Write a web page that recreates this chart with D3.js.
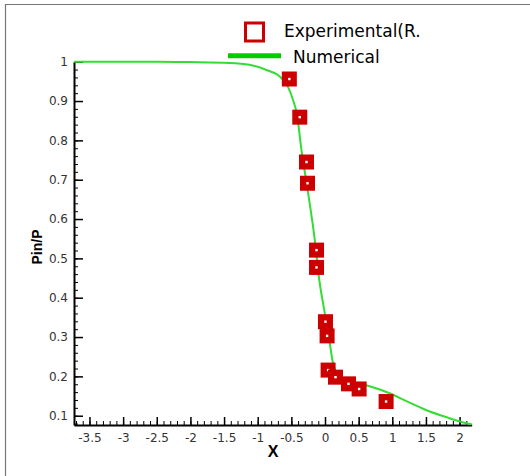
<!DOCTYPE html>
<html lang="en">
<head>
<meta charset="utf-8">
<title>Pin/P vs X</title>
<style>
   html,body { margin:0; padding:0; background:white; }
   svg { display:block; font-family:"DejaVu Sans",sans-serif; }
   .axis text { font-size:12px; fill:#333; font-family:"DejaVu Sans",sans-serif; }
   .axis path, .axis line { stroke:black; }
   .title { font-family:"Liberation Sans",Arial,sans-serif; font-weight:bold; }
</style>
<script src="https://d3js.org/d3.v7.min.js"></script>
</head>
<body>
<script>
// experimental points
let expX = [-0.53,-0.375,-0.275,-0.26,-0.126,-0.126,0.007,0.031,0.046,0.156,0.349,0.507,0.908];
let expY = [0.956,0.859,0.745,0.691,0.521,0.477,0.339,0.303,0.216,0.198,0.181,0.168,0.136];
// numerical curve
let numX = [-3.73,-2.5,-2.0,-1.42,-1.12,-0.87,-0.67,-0.55,-0.47,-0.42,-0.35,-0.25,-0.152,-0.09,-0.003,0.071,0.12,0.22,0.40,0.64,0.96,1.21,1.51,1.81,2.10,2.18];
let numY = [1.0,1.0,0.999,0.997,0.992,0.979,0.962,0.936,0.900,0.869,0.776,0.665,0.547,0.452,0.360,0.284,0.233,0.199,0.187,0.176,0.157,0.137,0.114,0.096,0.081,0.078];
let xTicks = [-3.5,-3,-2.5,-2,-1.5,-1,-0.5,0,0.5,1,1.5,2];
let yTicks = [0.1,0.2,0.3,0.4,0.5,0.6,0.7,0.8,0.9,1];

let width = 530, height = 476;
let margin = {top:61.7, right:58.3, bottom:51, left:74};

let x = d3.scaleLinear().domain([-3.73,2.18]).range([margin.left, width-margin.right]);
let y = d3.scaleLinear().domain([0.0764,1]).range([height-margin.bottom, margin.top]);
let fmt = d => String(d); // plain hyphen minus like the original

const svg = d3.select("body").append("svg")
   .attr("width",width).attr("height",height);

// frame
svg.append("line").attr("x1",5).attr("x2",width).attr("y1",4.5).attr("y2",4.5).attr("stroke","#777").attr("stroke-width",1.2);
svg.append("line").attr("x1",5.5).attr("x2",5.5).attr("y1",4).attr("y2",height).attr("stroke","#777").attr("stroke-width",1.2);

// minor ticks
let xMinor = d3.range(-37,22).map(d => d/10);
let yMinor = d3.range(4,51).map(d => d/50);
svg.append("g").attr("class","axis")
   .attr("transform",`translate(0,${y(0.0764)})`)
   .call(d3.axisBottom(x).tickValues(xMinor).tickFormat("").tickSize(-4).tickSizeOuter(0))
   .call(g => g.select(".domain").remove());
svg.append("g").attr("class","axis")
   .attr("transform",`translate(${x(-3.73)},0)`)
   .call(d3.axisLeft(y).tickValues(yMinor).tickFormat("").tickSize(-4).tickSizeOuter(0))
   .call(g => g.select(".domain").remove());

// major axes
svg.append("g").attr("class","axis")
   .attr("transform",`translate(0,${y(0.0764)})`)
   .call(d3.axisBottom(x).tickValues(xTicks).tickFormat(fmt).tickSize(-8).tickSizeOuter(0).tickPadding(8))
   .call(g => g.selectAll("line").attr("stroke-width",1.5))
   .call(g => g.select(".domain").attr("stroke-width",2));
svg.append("g").attr("class","axis")
   .attr("transform",`translate(${x(-3.73)},0)`)
   .call(d3.axisLeft(y).tickValues(yTicks).tickFormat(fmt).tickSize(-9).tickSizeOuter(0).tickPadding(6))
   .call(g => g.selectAll("line").attr("stroke-width",1.5))
   .call(g => g.select(".domain").attr("stroke-width",2));

// axis titles
svg.append("text").attr("class","title").attr("x",273).attr("y",457).attr("text-anchor","middle")
   .attr("font-size",16).text("X");
svg.append("text").attr("class","title").attr("transform","translate(42,247) rotate(-90)").attr("text-anchor","middle")
   .attr("font-size",14).text("Pin/P");

// numerical curve
let curve = d3.line().x(d => x(d[0])).y(d => y(d[1])).curve(d3.curveMonotoneX);
svg.append("path").datum(d3.zip(numX,numY))
   .attr("d",curve).attr("fill","none").attr("stroke","#33dd33").attr("stroke-width",2);

// experimental points
let pts = svg.append("g").selectAll("g").data(d3.zip(expX,expY)).join("g")
   .attr("transform",d => `translate(${x(d[0])},${y(d[1])})`);
pts.append("rect").attr("x",-7.5).attr("y",-7.5).attr("width",15).attr("height",15).attr("fill","#cc0000");
pts.append("rect").attr("x",-1.2).attr("y",-1.2).attr("width",2.4).attr("height",2.4).attr("fill","white");

// legend
svg.append("rect").attr("x",245.5).attr("y",23).attr("width",18).attr("height",18)
   .attr("fill","white").attr("stroke","#cc0000").attr("stroke-width",3);
svg.append("text").attr("x",284).attr("y",37).attr("font-size",17).text("Experimental(R.");
svg.append("line").attr("x1",228).attr("x2",281).attr("y1",55.7).attr("y2",55.7)
   .attr("stroke","#00cc00").attr("stroke-width",5);
svg.append("text").attr("x",293).attr("y",63).attr("font-size",17).text("Numerical");
</script>
</body>
</html>
